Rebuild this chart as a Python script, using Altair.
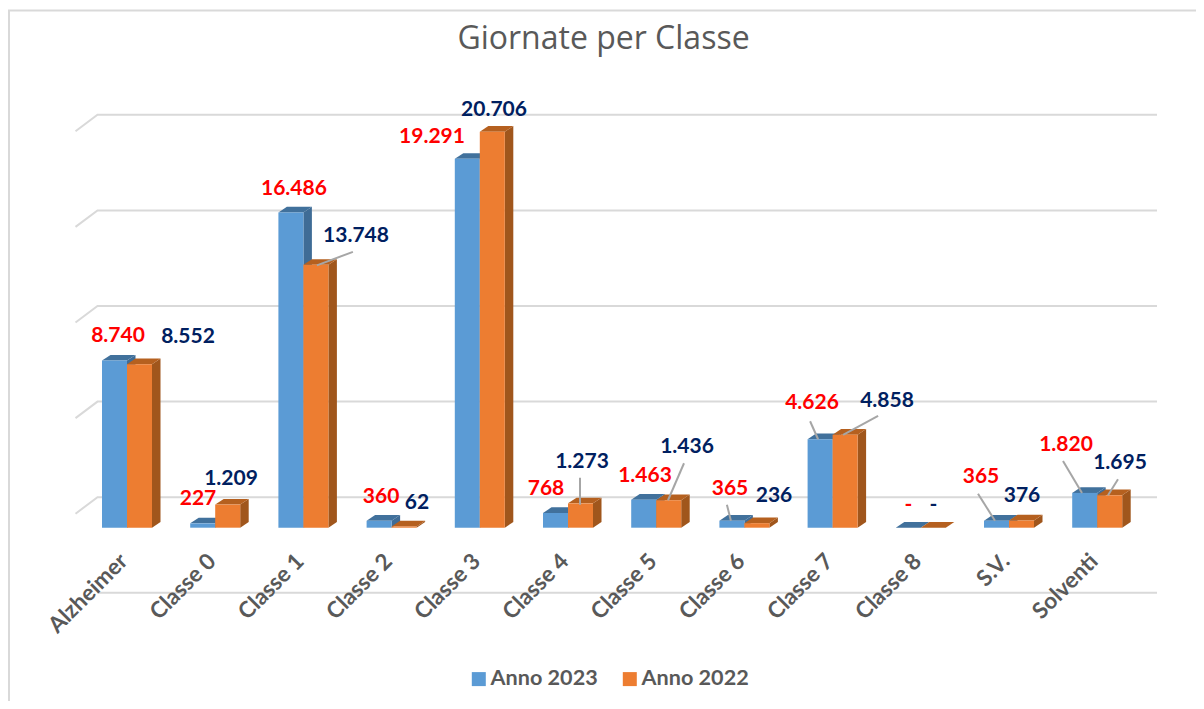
import altair as alt
import pandas as pd

chart_title = "Giornate per Classe"
categories = ["Alzheimer", "Classe 0", "Classe 1", "Classe 2", "Classe 3", "Classe 4",
              "Classe 5", "Classe 6", "Classe 7", "Classe 8", "S.V.", "Solventi"]
anno_2023 = [8740, 227, 16486, 360, 19291, 768, 1463, 365, 4626, 0, 365, 1820]
anno_2022 = [8552, 1209, 13748, 62, 20706, 1273, 1436, 236, 4858, 0, 376, 1695]
labels_2023 = ["8.740", "227", "16.486", "360", "19.291", "768", "1.463", "365", "4.626", "-", "365", "1.820"]
labels_2022 = ["8.552", "1.209", "13.748", "62", "20.706", "1.273", "1.436", "236", "4.858", "-", "376", "1.695"]
grid_values = [20000, 15000, 10000, 5000, 0, -5000]

# label placement, in pixels relative to the top of each bar
offsets_2023 = [(3.5, -25.6), (-4.7, -25.4), (3, -24.5), (2, -25.8), (-35.3, -22.9), (-9.5, -26),
                (1.3, -25.7), (-1.9, -33.7), (-8.1, -37.3), (0, -24.7), (-15.5, -45.7), (-18.7, -49.9)]
offsets_2022 = [(48.5, -28.2), (3.3, -26.6), (40.1, -30.8), (12.9, -25.5), (1.7, -23.8), (1.5, -42.4),
                (18.3, -55.2), (17.1, -28.2), (41.9, -35.8), (0, -24.7), (0.5, -26.5), (10.3, -33.3)]
# leader lines: category, series, label-end dx/dy, bar-end dx/dy
leaders = [(2, 1, 37, -13, 1, 0.5), (5, 1, -0.5, -25.5, -0.5, 1.5), (6, 1, 15.3, -37, -0.7, 0),
           (7, 0, -5, -16, -1, 0), (8, 0, -10, -18, -2, 0), (8, 1, 33, -19, -2, 0),
           (10, 0, -18.5, -27, -1.5, 0), (11, 0, -21.7, -32, -2.7, 0), (11, 1, 8.3, -16, -1.7, 0)]

W, H = 1188, 693
PITCH = 88.2          # px per category
PX_PER_UNIT = 0.01912 # px per day
X0, Y0 = 127.0, 527.7 # page px of first category centre and of the zero line
BAR = 25 / PITCH
DX = 8.5 / PITCH
DY = 5.7 / PX_PER_UNIT
WALL = 30.5 / PX_PER_UNIT
xpx = lambda p: p / PITCH
ypx = lambda p: -p / PX_PER_UNIT

x_domain = [(8 - X0) / PITCH, (8 + W - X0) / PITCH]
y_domain = [(Y0 - (8 + H)) / PX_PER_UNIT, (Y0 - 8) / PX_PER_UNIT]
x_scale = alt.Scale(domain=x_domain, nice=False, zero=False)
y_scale = alt.Scale(domain=y_domain, nice=False, zero=False)
X = alt.X("x:Q", scale=x_scale, axis=None)
Y = alt.Y("y:Q", scale=y_scale, axis=None, stack=None)

series = ["Anno 2023", "Anno 2022"]
values = [anno_2023, anno_2022]
colors = ["#5B9BD5", "#ED7D31"]
top_colors = ["#41719C", "#B5601F"]
side_colors = ["#3F6C96", "#A0561C"]

# frame and grid
frame = pd.DataFrame({"x": [x_domain[0]], "x2": [x_domain[1]], "y": [(Y0 - 10.5) / PX_PER_UNIT]})
frame_top = alt.Chart(frame).mark_rule(color="#D9D9D9", strokeWidth=2).encode(x=X, x2="x2:Q", y=Y)
frame_left = alt.Chart(pd.DataFrame({"x": [x_domain[0] + xpx(1)], "y": [(Y0 - 10) / PX_PER_UNIT],
                                     "y2": [y_domain[0]]})).mark_rule(color="#D9D9D9", strokeWidth=2).encode(
    x=X, y=Y, y2="y2:Q")

grid_rows = []
for g in grid_values:
    wall = g + WALL
    if g > grid_values[-1]:
        grid_rows.append({"g": g, "o": 0, "x": (75.5 - X0) / PITCH, "y": wall + ypx(16.5)})
    grid_rows += [
        {"g": g, "o": 1, "x": (97.5 - X0) / PITCH, "y": wall},
        {"g": g, "o": 2, "x": (1157 - X0) / PITCH, "y": wall},
    ]
grid = alt.Chart(pd.DataFrame(grid_rows)).mark_line(color="#D9D9D9", strokeWidth=2).encode(
    x=X, y=Y, detail="g:N", order="o:Q")

layers = [frame_top, frame_left, grid]

# 3-D bars
for s in range(2):
    left = [i - BAR + s * BAR for i in range(12)]
    side_rows, top_rows = [], []
    for i, v in enumerate(values[s]):
        r = left[i] + BAR
        side_rows += [{"c": i, "x": r, "y": 0, "y2": v},
                      {"c": i, "x": r + DX, "y": DY, "y2": v + DY}]
        top_rows += [{"c": i, "x": left[i], "y": v, "y2": v},
                     {"c": i, "x": left[i] + DX, "y": v, "y2": v + DY},
                     {"c": i, "x": r, "y": v, "y2": v + DY},
                     {"c": i, "x": r + DX, "y": v + DY, "y2": v + DY}]
    side = alt.Chart(pd.DataFrame(side_rows)).mark_area(color=side_colors[s]).encode(
        x=X, y=Y, y2="y2:Q", detail="c:N")
    top = alt.Chart(pd.DataFrame(top_rows)).mark_area(color=top_colors[s]).encode(
        x=X, y=Y, y2="y2:Q", detail="c:N")
    front_df = pd.DataFrame({"Serie": series[s], "x": left, "x2": [l + BAR for l in left],
                             "y": values[s], "y2": 0})
    front = alt.Chart(front_df).mark_rect().encode(
        x=X, x2="x2:Q", y=Y, y2="y2:Q",
        color=alt.Color("Serie:N", scale=alt.Scale(domain=series, range=colors),
                        legend=alt.Legend(title=None, orient="none", legendX=460, legendY=660,
                                          direction="horizontal", symbolType="square", symbolSize=196,
                                          symbolStrokeWidth=0, symbolOpacity=1,
                                          labelFont="Lato", labelFontWeight="bold", labelFontSize=21.6,
                                          labelColor="#595959", labelOffset=1, columnPadding=21)))
    layers += [side, top, front]

# leader lines
lead_rows = []
for c, s, dx1, dy1, dx2, dy2 in leaders:
    cx = c - BAR / 2 + s * BAR
    v = values[s][c]
    lead_rows.append({"x": cx + xpx(dx1), "y": v + ypx(dy1), "x2": cx + xpx(dx2), "y2": v + ypx(dy2)})
layers.append(alt.Chart(pd.DataFrame(lead_rows)).mark_rule(color="#A6A6A6", strokeWidth=2).encode(
    x=X, y=Y, x2="x2:Q", y2="y2:Q"))

# data labels
for s, (labs, offs, col) in enumerate([(labels_2023, offsets_2023, "#FF0000"), (labels_2022, offsets_2022, "#002060")]):
    df = pd.DataFrame({
        "x": [i - BAR / 2 + s * BAR + xpx(o[0]) for i, o in enumerate(offs)],
        "y": [v + ypx(o[1]) for v, o in zip(values[s], offs)],
        "t": labs})
    layers.append(alt.Chart(df).mark_text(font="Lato", fontWeight="bold", fontSize=21, color=col, dy=1.5,
                                          baseline="middle", align="center").encode(x=X, y=Y, text="t:N"))

# category labels
cat_df = pd.DataFrame({"x": [i - xpx(3) for i in range(12)], "y": [ypx(30)] * 12, "t": categories})
layers.append(alt.Chart(cat_df).mark_text(font="Lato", fontWeight="bold", fontSize=22.5, color="#595959",
                                          angle=315, align="right", baseline="middle").encode(x=X, y=Y, text="t:N"))

# chart title
title_df = pd.DataFrame({"x": [(603.5 - X0) / PITCH], "y": [(Y0 - 38.5) / PX_PER_UNIT], "t": [chart_title]})
layers.append(alt.Chart(title_df).mark_text(font="Open Sans", fontSize=32, color="#595959",
                                            baseline="middle", align="center").encode(x=X, y=Y, text="t:N"))

chart = alt.layer(*layers).properties(
    width=W, height=H, padding=0,
    autosize=alt.AutoSizeParams(type="none"),
).configure_view(stroke=None)

chart.save("out.html", embed_options={"renderer": "svg", "actions": False})
